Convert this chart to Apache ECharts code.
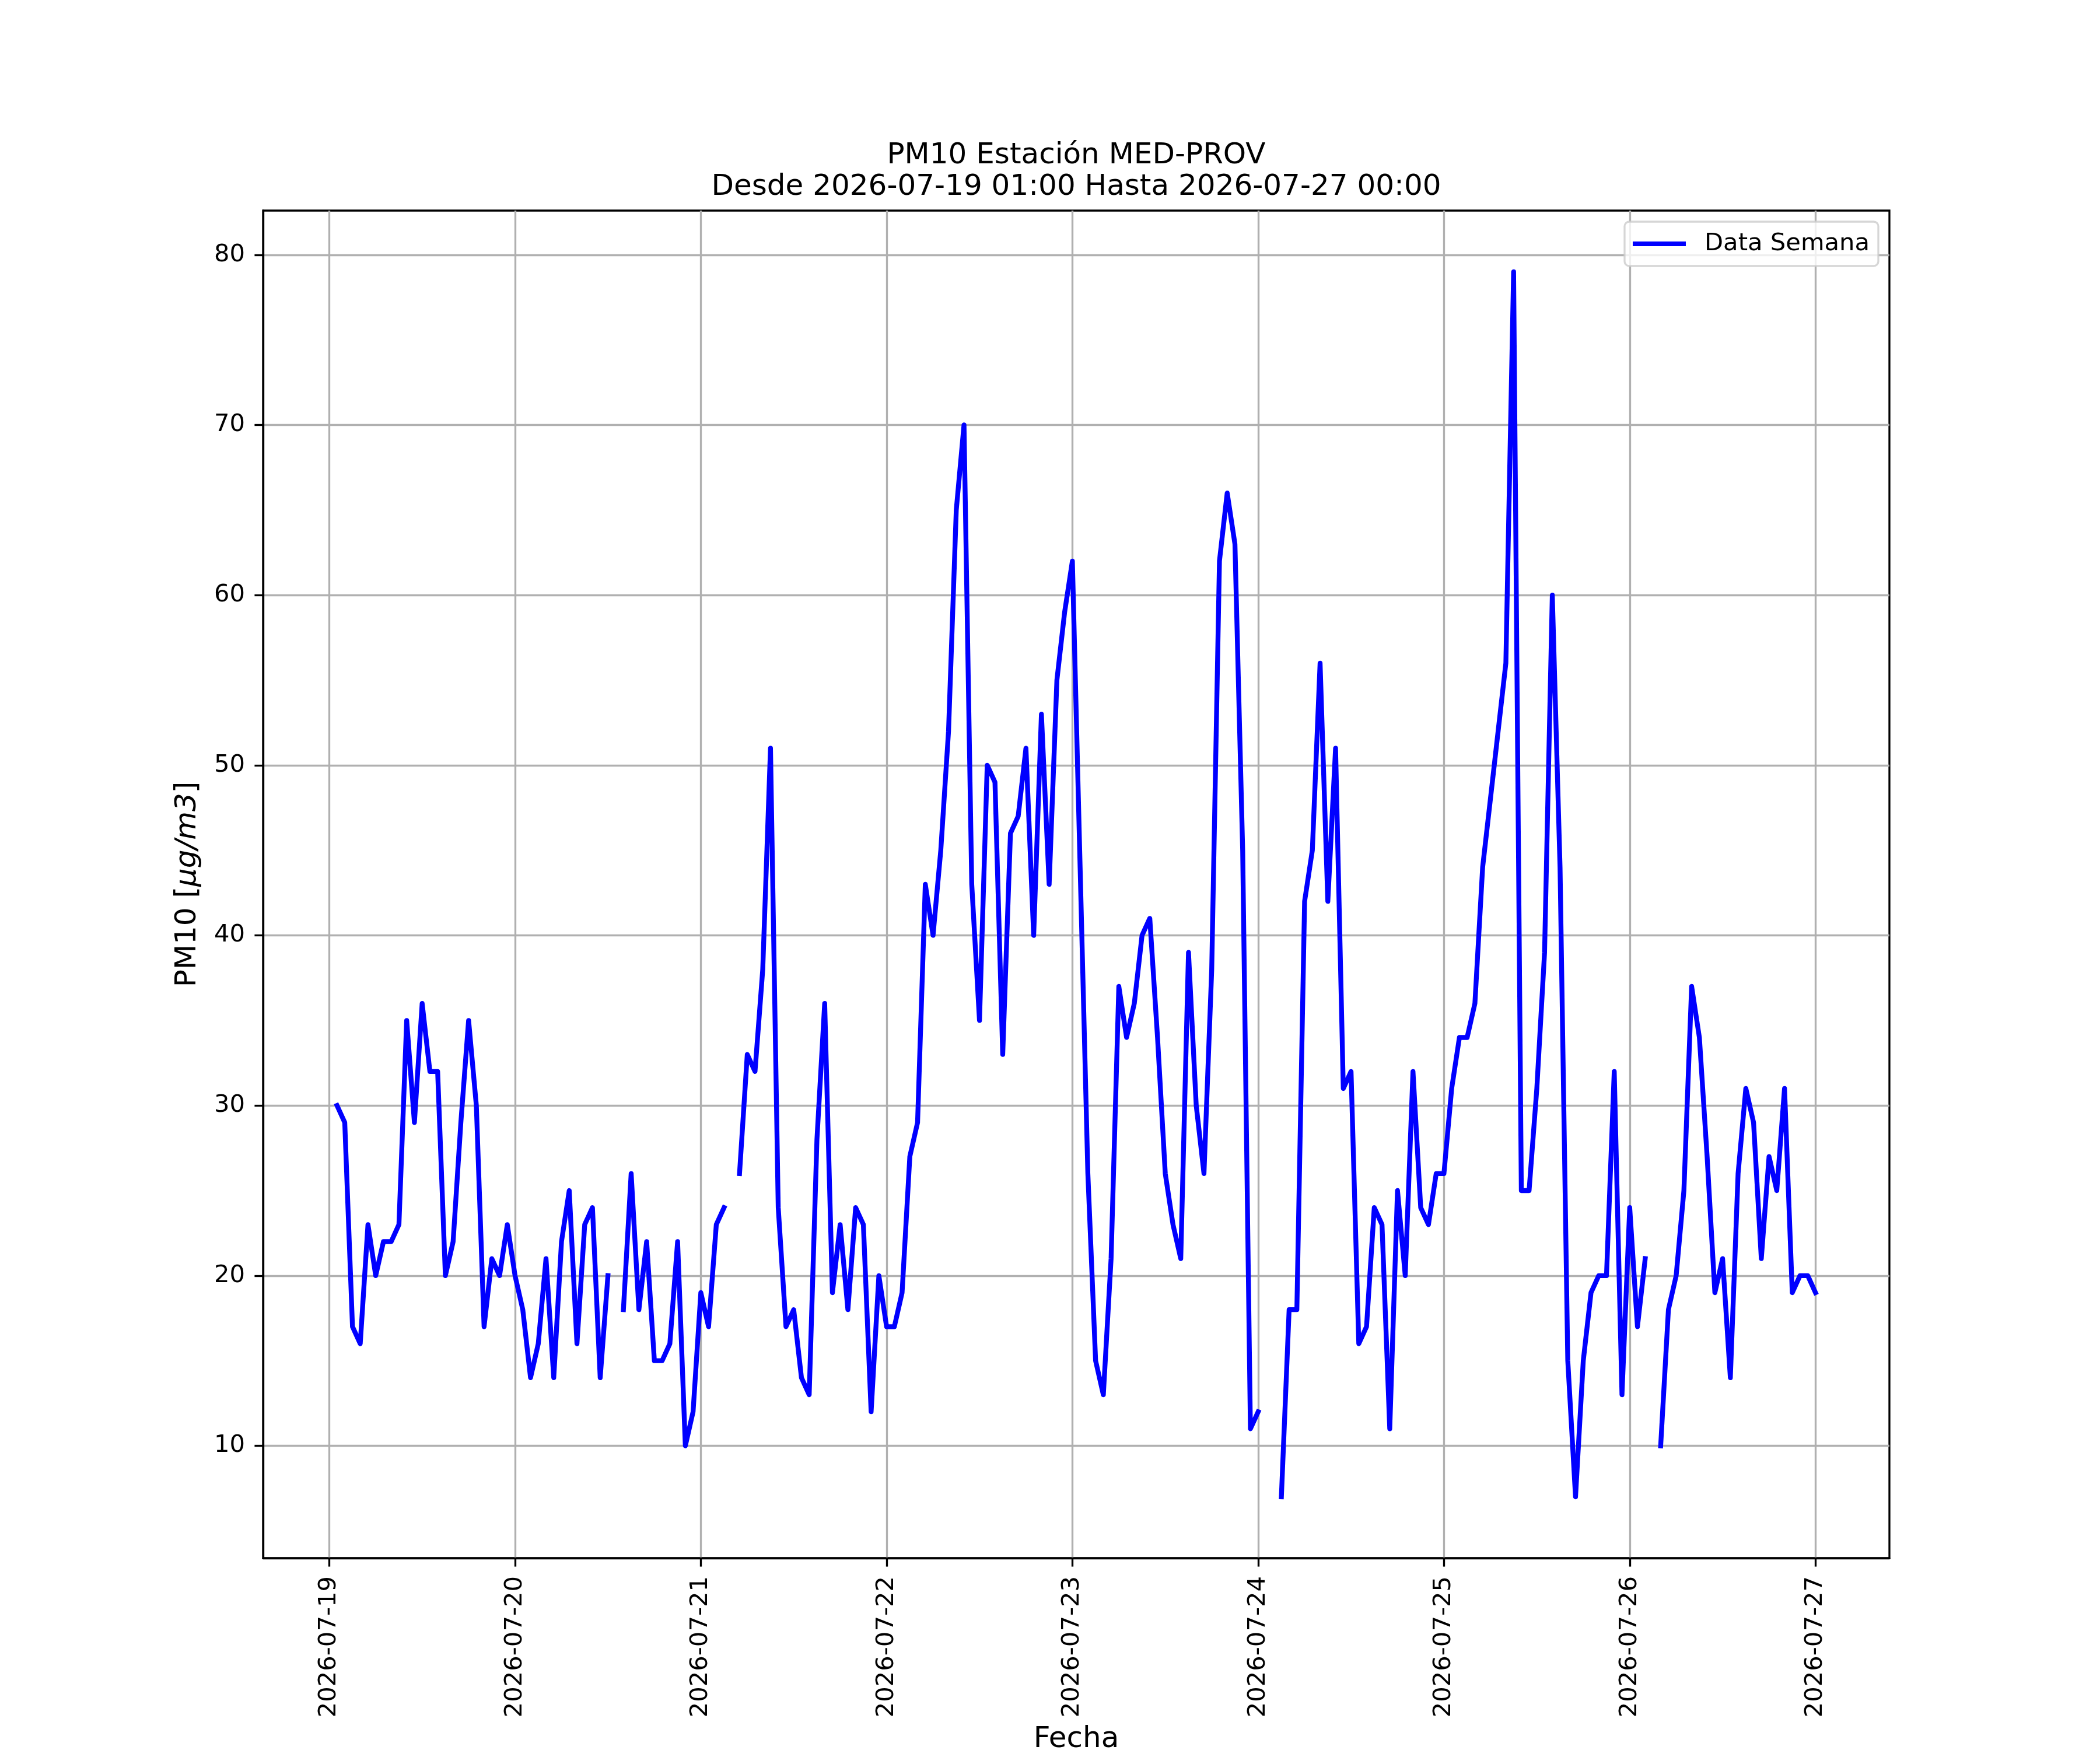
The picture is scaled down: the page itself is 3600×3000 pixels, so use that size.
<!DOCTYPE html>
<html>
<head>
<meta charset="utf-8">
<script src="https://cdn.jsdelivr.net/npm/echarts@6/dist/echarts.min.js"></script>
<style>
  html, body { margin: 0; padding: 0; background: #fff; }
  #chart { width: 3600px; height: 3000px; }
</style>
</head>
<body>
<div id="chart"></div>
<script>
// hourly PM10, first reading at 2026-07-19 01:00 (hour 1), null = no data
const firstHour = 1;
const pm10 = [
  30, 29, 17, 16, 23, 20, 22, 22, 23, 35, 29, 36, 32, 32, 20, 22, 29, 35, 30, 17, 21, 20, 23, 20,
  18, 14, 16, 21, 14, 22, 25, 16, 23, 24, 14, 20, null, 18, 26, 18, 22, 15, 15, 16, 22, 10, 12, 19,
  17, 23, 24, null, 26, 33, 32, 38, 51, 24, 17, 18, 14, 13, 28, 36, 19, 23, 18, 24, 23, 12, 20, 17,
  17, 19, 27, 29, 43, 40, 45, 52, 65, 70, 43, 35, 50, 49, 33, 46, 47, 51, 40, 53, 43, 55, 59, 62,
  44, 26, 15, 13, 21, 37, 34, 36, 40, 41, 34, 26, 23, 21, 39, 30, 26, 38, 62, 66, 63, 45, 11, 12,
  null, null, 7, 18, 18, 42, 45, 56, 42, 51, 31, 32, 16, 17, 24, 23, 11, 25, 20, 32, 24, 23, 26, 26,
  31, 34, 34, 36, 44, 48, 52, 56, 79, 25, 25, 31, 39, 60, 44, 15, 7, 15, 19, 20, 20, 32, 13, 24,
  17, 21, null, 10, 18, 20, 25, 37, 34, 27, 19, 21, 14, 26, 31, 29, 21, 27, 25, 31, 19, 20, 20, 19
];

const dayLabels = [
  "2026-07-19", "2026-07-20", "2026-07-21", "2026-07-22", "2026-07-23",
  "2026-07-24", "2026-07-25", "2026-07-26", "2026-07-27"
];
const yTicks = [10, 20, 30, 40, 50, 60, 70, 80];

const titleText = "PM10 Estación MED-PROV\nDesde 2026-07-19 01:00 Hasta 2026-07-27 00:00";
const seriesName = "Data Semana";

const dayHours = dayLabels.map((d, i) => i * 24);
const seriesData = pm10.map((v, i) => [firstHour + i, v === null ? "-" : v]);

const font = "DejaVu Sans";
const lw = 3.33;

const chart = echarts.init(document.getElementById("chart"), null, {
  renderer: "canvas",
});

chart.setOption({
  animation: false,
  backgroundColor: "#ffffff",
  textStyle: { fontFamily: font },
  title: {
    text: titleText,
    left: 1845,
    top: 240,
    padding: 0,
    textAlign: "center",
    textStyle: {
      fontFamily: font,
      fontSize: 50,
      fontWeight: "normal",
      color: "#000",
      lineHeight: 54,
    },
  },
  legend: {
    data: [seriesName],
    right: 380,
    top: 380,
    icon: "rect",
    itemWidth: 91,
    itemHeight: 8,
    padding: [17, 15, 17, 14],
    backgroundColor: "rgba(255,255,255,0.8)",
    borderColor: "rgba(204,204,204,0.8)",
    borderWidth: 3.3,
    borderRadius: 8,
    textStyle: {
      fontFamily: font,
      fontSize: 41.7,
      color: "#000",
      padding: [0, 0, 0, 27],
    },
  },
  grid: {
    left: 451,
    right: 361,
    top: 361,
    bottom: 329,
    containLabel: false,
    outerBoundsMode: "none",
    show: true,
    borderColor: "#000",
    borderWidth: lw,
    backgroundColor: "#fff",
  },
  xAxis: {
    type: "value",
    min: -8.55,
    max: 201.55,
    name: "Fecha",
    nameLocation: "middle",
    nameGap: 286,
    nameTextStyle: { fontFamily: font, fontSize: 50, color: "#000" },
    axisLine: { show: true, onZero: false, lineStyle: { color: "#000", width: lw } },
    axisTick: {
      show: true,
      customValues: dayHours,
      length: 14.6,
      lineStyle: { color: "#000", width: lw },
    },
    axisLabel: {
      customValues: dayHours,
      rotate: 90,
      margin: 31,
      fontFamily: font,
      fontSize: 41.7,
      color: "#000",
      formatter: (v) => dayLabels[Math.round(v / 24)],
    },
    splitLine: { show: true, lineStyle: { color: "#b0b0b0", width: lw } },
  },
  yAxis: {
    type: "value",
    min: 3.4,
    max: 82.6,
    name: "PM10 [{i|μg/m3}]",
    nameLocation: "middle",
    nameGap: 104,
    nameTextStyle: {
      fontFamily: font,
      fontSize: 50,
      color: "#000",
      rich: {
        i: { fontFamily: font, fontSize: 50, fontStyle: "italic", color: "#000" },
      },
    },
    axisLine: { show: true, onZero: false, lineStyle: { color: "#000", width: lw } },
    axisTick: {
      show: true,
      customValues: yTicks,
      length: 14.6,
      lineStyle: { color: "#000", width: lw },
    },
    axisLabel: {
      customValues: yTicks,
      margin: 31,
      fontFamily: font,
      fontSize: 41.7,
      color: "#000",
    },
    splitLine: { show: true, lineStyle: { color: "#b0b0b0", width: lw } },
  },
  series: [
    {
      name: seriesName,
      type: "line",
      data: seriesData,
      showSymbol: false,
      connectNulls: false,
      color: "#0000ff",
      lineStyle: { color: "#0000ff", width: 8.33, join: "round", cap: "square" },
    },
  ],
});
</script>
</body>
</html>
